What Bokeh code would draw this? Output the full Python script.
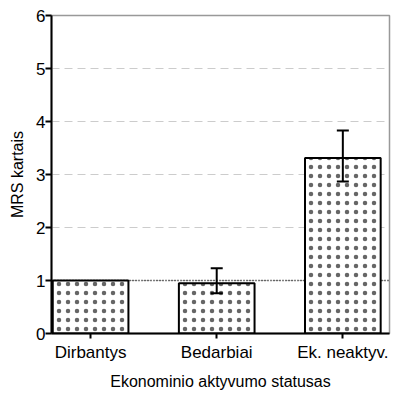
from bokeh.plotting import figure
from bokeh.models import ColumnDataSource, Whisker, Span, FixedTicker, Range1d
from bokeh.embed import file_html
from bokeh.resources import INLINE

categories = ["Dirbantys", "Bedarbiai", "Ek. neaktyv."]
values = [1.0, 0.95, 3.31]
upper = [1.0, 1.23, 3.83]
lower = [1.0, 0.76, 2.87]
xpos = [0, 1, 2]

src = ColumnDataSource(dict(x=xpos, top=values))
err_src = ColumnDataSource(dict(x=xpos[1:], upper=upper[1:], lower=lower[1:]))

FONT = "Liberation Sans"

p = figure(frame_width=338, frame_height=318, output_backend="svg", toolbar_location=None,
           x_range=Range1d(-0.31, 2.37), y_range=Range1d(0, 6),
           min_border_left=51, min_border_right=9, min_border_top=15, min_border_bottom=10)

p.background_fill_color = "white"
p.border_fill_color = "white"
p.outline_line_color = "#999999"
p.outline_line_width = 1.5

ref = Span(location=1, dimension="width", line_color="black", line_dash="1 2", line_width=1.5, level="underlay")
p.add_layout(ref)

p.vbar(x="x", top="top", width=0.6, source=src, fill_color="white", line_color="black", line_width=2,
       hatch_pattern="dot", hatch_scale=9, hatch_color="#333333", hatch_alpha=0.75, hatch_weight=1)

w = Whisker(base="x", upper="upper", lower="lower", source=err_src, line_color="black", line_width=2,
            level="overlay")
w.upper_head.size = 12
w.lower_head.size = 12
w.upper_head.line_width = 2
w.lower_head.line_width = 2
p.add_layout(w)

p.xgrid.visible = False
p.ygrid.grid_line_color = "#cccccc"
p.ygrid.grid_line_dash = "8 5"
p.ygrid.grid_line_width = 1

p.xaxis.ticker = FixedTicker(ticks=xpos)
p.xaxis.major_label_overrides = {i: c for i, c in zip(xpos, categories)}
p.yaxis.ticker = FixedTicker(ticks=[0, 1, 2, 3, 4, 5, 6])

for ax in (p.xaxis[0], p.yaxis[0]):
    ax.axis_line_color = "black"
    ax.axis_line_width = 2
    ax.major_tick_line_color = "black"
    ax.major_tick_line_width = 2
    ax.major_tick_in = 0
    ax.major_tick_out = 5
    ax.minor_tick_line_color = None
    ax.major_label_text_font = FONT
    ax.major_label_text_font_size = "17px"
    ax.major_label_text_color = "black"
    ax.axis_label_text_font = FONT
    ax.axis_label_text_font_size = "16px"
    ax.axis_label_text_font_style = "normal"
    ax.axis_label_text_color = "black"

p.yaxis.major_tick_out = 6
p.yaxis.major_label_standoff = 0
p.xaxis.major_label_standoff = 4
p.xaxis.axis_label = "Ekonominio aktyvumo statusas"
p.yaxis.axis_label = "MRS kartais"
p.xaxis.axis_label_standoff = 8
p.yaxis.axis_label_standoff = 7

open("out.html", "w").write(file_html(p, INLINE))
